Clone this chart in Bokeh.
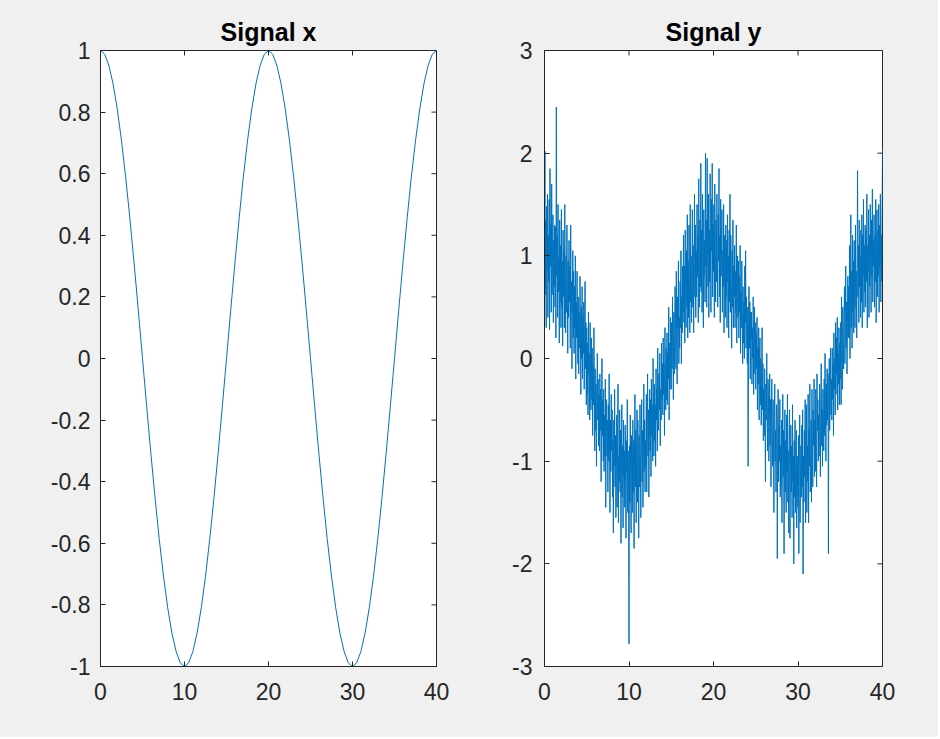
import numpy as np
from bokeh.plotting import figure
from bokeh.layouts import row
from bokeh.models import FixedTicker, LinearAxis, Range1d
from bokeh.embed import file_html
from bokeh.resources import INLINE

# ---------------- data ----------------
# Signal x, one value every 0.5 time units
x_signal = [
    1.0, 0.988, 0.951, 0.891, 0.809, 0.707, 0.588, 0.454, 0.309, 0.156,
    0.0, -0.156, -0.309, -0.454, -0.588, -0.707, -0.809, -0.891, -0.951, -0.988,
    -1.0, -0.988, -0.951, -0.891, -0.809, -0.707, -0.588, -0.454, -0.309, -0.156,
    0.0, 0.156, 0.309, 0.454, 0.588, 0.707, 0.809, 0.891, 0.951, 0.988,
    1.0, 0.988, 0.951, 0.891, 0.809, 0.707, 0.588, 0.454, 0.309, 0.156,
    0.0, -0.156, -0.309, -0.454, -0.588, -0.707, -0.809, -0.891, -0.951, -0.988,
    -1.0, -0.988, -0.951, -0.891, -0.809, -0.707, -0.588, -0.454, -0.309, -0.156,
    0.0, 0.156, 0.309, 0.454, 0.588, 0.707, 0.809, 0.891, 0.951, 0.988,
    1.0,
]

# Signal y : estimated from the right panel, one value every 0.05 time units
y_signal = [
    1.12, 2.02, 0.62, 1.35, 0.30, 1.48, 0.85, 1.6, 0.4, 1.2,
    0.75, 1.55, 0.28, 1.85, 0.9, 1.3, 0.45, 1.7, 0.62, 1.05,
    1.4, 0.35, 1.15, 0.7, 1.3, 0.5, 1.28, 0.2, 2.45, 0.8,
    1.2, 0.4, 1.5, 0.65, 0.98, 0.15, 1.35, 0.55, 1.1, 0.3,
    1.45, 0.5, 0.95, 0.12, 1.25, 0.6, 1.05, 0.3, 1.5, 0.7,
    0.25, 1.0, 0.45, 1.3, 0.7, 0.05, 0.95, 0.4, 1.15, 0.55,
    0.9, 0.1, 1.3, 0.45, 0.75, -0.1, 0.6, 1.05, 0.2, 0.85,
    0.05, 0.7, 0.3, 1.0, -0.2, 0.55, 0.2, 0.85, 0.4, -0.05,
    0.6, -0.15, 0.45, 0.1, 0.8, 0.25, -0.35, 0.5, 0.0, 0.7,
    -0.2, 0.4, 0.05, 0.55, -0.3, 0.25, 0.75, -0.1, 0.35, -0.45,
    0.3, -0.35, 0.15, -0.55, 0.45, -0.15, 0.05, -0.6, 0.35, -0.25,
    -0.5, 0.2, -0.4, 0.1, -0.75, -0.05, -0.45, 0.3, -0.3, -0.9,
    -0.1, -0.7, -0.25, -1.05, -0.4, 0.05, -0.6, -0.2, -0.85, -0.35,
    -0.9, -0.15, -0.7, -0.3, -1.2, -0.5, 0.0, -0.75, -0.4, -1.0,
    -0.3, -1.1, -0.55, -0.95, -0.2, -1.45, -0.7, -0.4, -0.95, -0.6,
    -1.3, -0.45, -1.0, -0.15, -0.85, -1.5, -0.6, -1.1, -0.35, -0.9,
    -0.5, -1.35, -0.8, -1.7, -0.6, -1.05, -0.3, -1.25, -0.75, -1.55,
    -1.1, -0.55, -1.45, -0.8, -0.25, -1.6, -0.95, -1.2, -0.5, -1.3,
    -0.7, -1.8, -1.0, -0.45, -1.35, -0.85, -1.65, -0.6, -1.15, -0.9,
    -1.45, -0.65, -1.25, -1.75, -0.8, -1.1, -0.4, -1.5, -0.9, -1.3,
    -2.78, -0.85, -1.4, -0.55, -1.2, -1.7, -0.75, -1.05, -1.5, -0.6,
    -1.3, -0.8, -1.85, -0.95, -0.35, -1.25, -0.7, -1.6, -1.0, -0.5,
    -1.4, -0.6, -1.1, -1.75, -0.75, -1.25, -0.45, -1.0, -1.55, -0.85,
    -0.4, -1.2, -0.7, -1.45, -0.95, -0.25, -1.1, -0.6, -1.3, -0.8,
    -1.05, -0.35, -1.3, -0.65, -0.15, -0.95, -0.5, -1.35, -0.8, -0.3,
    -0.9, -0.4, -1.15, -0.2, -0.75, -0.45, -1.0, 0.0, -0.6, -0.95,
    -0.25, -0.8, -0.45, -1.05, -0.1, -0.6, -0.3, -0.9, 0.1, -0.55,
    -0.7, -0.15, -0.5, 0.05, -0.85, -0.3, -0.6, 0.15, -0.4, -0.05,
    -0.55, 0.2, -0.35, -0.05, -0.75, 0.3, -0.2, -0.5, 0.1, -0.4,
    0.25, -0.45, 0.05, -0.2, 0.5, -0.6, 0.15, -0.3, 0.4, -0.1,
    -0.3, 0.35, -0.1, 0.6, 0.05, -0.4, 0.45, -0.15, 0.2, 0.7,
    0.5, -0.1, 0.85, 0.2, -0.25, 0.6, 0.3, 0.95, -0.05, 0.4,
    0.1, 0.75, 0.3, 1.05, -0.05, 0.6, 0.25, 0.9, 0.45, 1.2,
    0.35, 0.9, 0.15, 1.25, 0.6, 0.3, 1.05, 0.5, 1.4, 0.2,
    0.95, 0.4, 1.3, 0.7, 0.25, 1.5, 0.55, 1.0, 0.35, 0.85,
    1.45, 0.5, 1.1, 0.25, 0.95, 1.6, 0.6, 1.3, 0.4, 1.05,
    0.6, 1.5, 0.8, 1.2, 0.35, 1.75, 0.9, 0.5, 1.35, 0.7,
    1.9, 0.65, 1.25, 0.45, 1.6, 1.0, 0.3, 1.45, 0.8, 1.15,
    0.55, 2.0, 0.9, 1.35, 0.5, 1.95, 1.1, 0.7, 1.6, 0.4,
    1.25, 0.75, 1.8, 0.95, 0.45, 1.55, 1.05, 1.9, 0.6, 1.3,
    0.85, 1.5, 0.4, 1.7, 1.0, 0.55, 1.35, 0.75, 1.6, 0.9,
    0.5, 1.4, 0.95, 1.85, 0.6, 1.2, 0.35, 1.55, 0.8, 1.1,
    1.45, 0.45, 1.05, 0.7, 1.5, 0.25, 1.2, 0.85, 0.4, 1.3,
    0.6, 1.15, 0.3, 1.4, 0.75, 1.0, 0.2, 1.25, 0.55, 1.6,
    0.45, 1.2, 0.7, 0.1, 1.05, 0.5, 1.35, 0.3, 0.9, 0.6,
    1.1, 0.3, 0.85, 0.45, 1.3, 0.15, 0.7, 1.0, 0.4, 0.95,
    0.2, 0.8, 0.45, 1.1, 0.05, 0.65, 0.3, 0.95, 0.5, -0.05,
    0.7, 0.15, 0.55, 0.0, 0.9, 0.35, 1.05, 0.1, 0.6, 0.25,
    -0.05, 0.5, -1.05, 0.35, 0.7, 0.1, 0.55, -0.2, 0.45, 0.2,
    0.45, -0.25, 0.3, 0.0, 0.6, -0.35, 0.2, 0.5, -0.15, 0.35,
    -0.3, 0.25, -0.1, 0.4, -0.5, 0.1, -0.25, 0.3, -0.6, 0.05,
    0.2, -0.45, 0.0, -0.65, -0.15, 0.3, -0.5, -0.05, -0.8, -0.3,
    -0.75, -0.1, -0.55, -1.2, -0.25, -0.6, 0.05, -0.45, -0.9, -0.2,
    -0.35, -1.0, -0.6, -0.15, -0.85, -0.4, -1.25, -0.55, -0.2, -0.75,
    -1.05, -0.4, -0.8, -1.5, -0.55, -0.25, -1.0, -0.7, -1.3, -0.45,
    -0.55, -1.95, -0.8, -0.3, -1.2, -0.65, -1.0, -0.4, -1.35, -0.85,
    -1.25, -0.6, -1.6, -0.9, -0.35, -1.15, -0.7, -1.9, -0.95, -0.5,
    -1.3, -0.8, -1.5, -0.55, -1.1, -0.35, -1.4, -0.9, -1.7, -0.7,
    -0.5, -1.75, -1.05, -0.65, -1.3, -0.85, -1.55, -0.45, -1.2, -0.95,
    -2.0, -0.8, -1.35, -0.6, -1.5, -1.1, -0.7, -1.65, -0.95, -1.25,
    -1.45, -0.75, -1.9, -1.0, -0.55, -1.6, -1.15, -0.85, -1.35, -0.65,
    -1.25, -0.5, -2.1, -0.95, -1.4, -0.7, -1.15, -0.4, -1.6, -0.85,
    -0.45, -1.5, -0.85, -1.2, -0.35, -1.6, -0.7, -1.05, -0.25, -1.3,
    -1.1, -0.6, -1.4, -0.3, -0.95, -1.25, -0.5, -0.85, -0.2, -1.15,
    -0.6, -1.1, -0.3, -0.85, -1.25, -0.15, -0.7, -0.4, -1.0, -0.55,
    -0.95, -0.25, -0.7, -1.15, -0.4, -0.05, -0.85, -0.5, -1.05, -0.3,
    -0.55, -0.9, -0.2, -0.75, 0.05, -0.5, -1.0, -0.25, -0.65, -0.1,
    -0.6, -0.15, -1.9, -0.4, 0.0, -0.7, -0.3, 0.1, -0.55, -0.2,
    -0.6, 0.1, -0.4, -0.05, -0.75, 0.25, -0.3, 0.0, -0.55, 0.35,
    -0.35, 0.2, -0.15, 0.4, -0.5, 0.05, -0.25, 0.3, -0.45, 0.15,
    -0.2, 0.35, -0.45, 0.6, 0.05, -0.3, 0.5, 0.15, -0.1, 0.45,
    0.7, -0.05, 0.4, 0.9, 0.1, 0.55, -0.15, 0.35, 0.8, 0.2,
    0.7, 0.2, 1.1, 0.0, 0.55, 1.4, 0.3, 0.85, 0.1, 1.2,
    0.45, 0.95, 0.25, 1.15, 0.6, 0.3, 1.3, 0.5, 0.85, 0.2,
    1.0, 1.83, 0.6, 1.1, 0.35, 1.35, 0.7, 1.0, 0.4, 1.25,
    0.55, 1.4, 0.3, 1.2, 0.8, 1.55, 0.45, 1.1, 0.65, 1.3,
    0.5, 1.25, 0.75, 1.6, 0.3, 1.1, 0.85, 1.45, 0.4, 1.2,
    0.7, 1.5, 0.95, 0.45, 1.35, 0.8, 1.65, 0.55, 1.15, 0.9,
    1.4, 0.5, 1.2, 0.75, 1.55, 0.35, 1.05, 1.45, 0.6, 1.25,
    0.8, 1.5, 0.45, 1.3, 0.9, 1.6, 0.55, 1.2, 0.75, 1.4,
    2.05,
]

# sample times (uniform grid from 0 to 40)
t_x = np.linspace(0, 40, len(x_signal))
t_y = np.linspace(0, 40, len(y_signal))

x_ticks = [0, 10, 20, 30, 40]
x_tick_labels = ["0", "10", "20", "30", "40"]
left_y_ticks = [-1.0, -0.8, -0.6, -0.4, -0.2, 0.0, 0.2, 0.4, 0.6, 0.8, 1.0]
left_y_labels = ["-1", "-0.8", "-0.6", "-0.4", "-0.2", "0", "0.2", "0.4", "0.6", "0.8", "1"]
right_y_ticks = [-3, -2, -1, 0, 1, 2, 3]
right_y_labels = ["-3", "-2", "-1", "0", "1", "2", "3"]

titles = ["Signal x", "Signal y"]

# ---------------- styling ----------------
BG = "#f0f0f0"
AX = "#262626"
LINE = "#0072bd"
FONT = "Liberation Sans"
TICK_FS = "23px"
TITLE_FS = "25px"
H = 737
TICK_LEN = 5


def style_axis(ax, ticks, labels, standoff):
    ax.ticker = FixedTicker(ticks=ticks)
    ax.major_label_overrides = {t: l for t, l in zip(ticks, labels)}
    ax.major_tick_in = TICK_LEN
    ax.major_tick_out = 0
    ax.minor_tick_in = 0
    ax.minor_tick_out = 0
    ax.axis_line_color = AX
    ax.major_tick_line_color = AX
    ax.major_label_text_font = FONT
    ax.major_label_text_color = AX
    ax.major_label_text_font_size = TICK_FS
    ax.major_label_standoff = standoff


def make_panel(title, t, vals, yr, yticks, ylabels, width, bl, br, ystand):
    p = figure(width=width, height=H, x_range=Range1d(0, 40), y_range=Range1d(*yr),
               output_backend="svg", toolbar_location=None,
               background_fill_color="white", border_fill_color=BG,
               min_border_left=bl, min_border_right=br,
               min_border_top=50, min_border_bottom=71,
               x_axis_type=None, y_axis_type=None)
    p.outline_line_color = AX
    p.outline_line_width = 1
    p.title.text = title
    p.title.align = "center"
    p.title.text_font = FONT
    p.title.text_font_size = TITLE_FS
    p.title.text_font_style = "bold"
    p.title.text_color = "#000000"
    p.title.standoff = 10

    xb = LinearAxis()
    style_axis(xb, x_ticks, x_tick_labels, 16)
    p.add_layout(xb, "below")
    yl = LinearAxis()
    style_axis(yl, yticks, ylabels, ystand)
    p.add_layout(yl, "left")

    # mirrored inward ticks on the top and right edges of the box
    p.ray(x=x_ticks, y=[yr[1]] * len(x_ticks), length=TICK_LEN, length_units="screen",
          angle=-90, angle_units="deg", line_color=AX, line_width=1)
    p.ray(x=[40] * len(yticks), y=yticks, length=TICK_LEN, length_units="screen",
          angle=180, angle_units="deg", line_color=AX, line_width=1)

    p.line(t, vals, line_color=LINE, line_width=1)
    return p


p1 = make_panel(titles[0], t_x, x_signal, (-1, 1), left_y_ticks, left_y_labels, 490, 100, 54, 10)
p2 = make_panel(titles[1], t_y, y_signal, (-3, 3), right_y_ticks, right_y_labels, 448, 54, 56, 12)

layout = row(p1, p2, spacing=0, styles={"background-color": BG})
open("out.html", "w").write(file_html(layout, INLINE))
